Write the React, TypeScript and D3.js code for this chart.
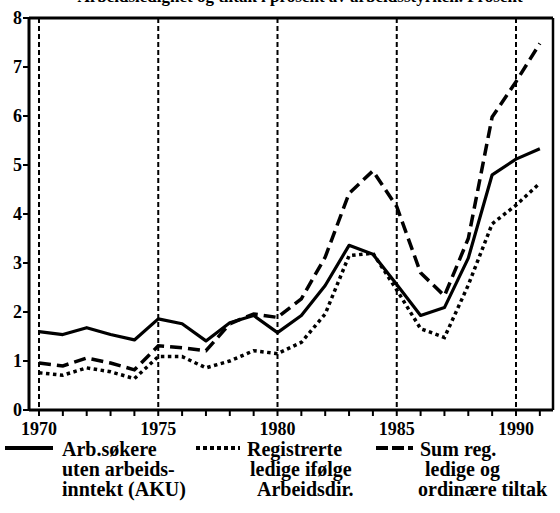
import React from "react";
import * as d3 from "d3";

const years = [1970,1971,1972,1973,1974,1975,1976,1977,1978,1979,1980,1981,1982,1983,1984,1985,1986,1987,1988,1989,1990,1991];
const aku = [1.60,1.54,1.68,1.54,1.43,1.86,1.76,1.41,1.78,1.93,1.58,1.93,2.54,3.36,3.18,2.56,1.93,2.09,3.1,4.8,5.12,5.33];
const registrerte = [0.76,0.71,0.86,0.78,0.64,1.09,1.09,0.86,1.0,1.21,1.15,1.38,1.96,3.15,3.2,2.45,1.66,1.48,2.55,3.8,4.18,4.63];
const sumTiltak = [0.96,0.9,1.06,0.96,0.82,1.31,1.27,1.21,1.76,1.96,1.89,2.27,3.12,4.42,4.88,4.15,2.8,2.33,3.5,5.98,6.7,7.48];
const yTicks = [0,1,2,3,4,5,6,7,8];
const xLabels = [1970,1975,1980,1985,1990];
const title = "Arbeidsledighet og tiltak i prosent av arbeidsstyrken. Prosent";
const legendAku = ["Arb.søkere", "uten arbeids-", "inntekt (AKU)"];
const legendReg = ["Registrerte", "ledige ifølge", "Arbeidsdir."];
const legendSum = ["Sum reg.", "ledige og", "ordinære tiltak"];

const W = 560, H = 513;
const left = 29, right = 553, top = 18, bottom = 410;
const font = "'Liberation Serif', 'Times New Roman', serif";

export default function App() {
  const x = d3.scaleLinear().domain([1970, 1990]).range([39, 516]);
  const y = d3.scaleLinear().domain([0, 8]).range([bottom, top]);
  const line = (vals: number[]) =>
    d3.line<number>().x((_, i) => x(years[i])).y((v) => y(v))(vals) || "";

  const legendLines = (lines: string[], x0: number, offsets: number[]) =>
    lines.map((t, i) => (
      <text key={i} x={x0 + offsets[i]} y={456 + i * 20} fontSize={20} fontFamily={font} fontWeight="bold">{t}</text>
    ));

  return (
    <svg width={W} height={H} style={{ position: "absolute", left: 0, top: 0, background: "#fff" }}>
      <text x={300} y={1.5} textAnchor="middle" fontSize={17} fontWeight="bold" fontFamily={font}>{title}</text>
      {xLabels.map((yr) => (
        <line key={yr} x1={x(yr)} x2={x(yr)} y1={top} y2={bottom} stroke="#000" strokeWidth={2} strokeDasharray="5 3" />
      ))}
      <line x1={left} x2={right} y1={top} y2={top} stroke="#000" strokeWidth={3} />
      <line x1={right} x2={right} y1={top} y2={bottom} stroke="#000" strokeWidth={2.5} />
      <line x1={left} x2={right} y1={bottom} y2={bottom} stroke="#000" strokeWidth={3} />
      <line x1={left} x2={left} y1={top - 1} y2={bottom + 1} stroke="#000" strokeWidth={3} />
      {yTicks.map((t) => (
        <g key={t}>
          <line x1={left - 6} x2={left} y1={y(t)} y2={y(t)} stroke="#000" strokeWidth={2} />
          <text x={left - 7} y={y(t) + 6} textAnchor="end" fontSize={18} fontWeight="bold" fontFamily={font}>{t}</text>
        </g>
      ))}
      {years.map((yr) => (
        <line key={yr} x1={x(yr)} x2={x(yr)} y1={bottom} y2={bottom + 6} stroke="#000" strokeWidth={2} />
      ))}
      {xLabels.map((yr) => (
        <text key={yr} x={x(yr)} y={435} textAnchor="middle" fontSize={18} fontWeight="bold" fontFamily={font}>{yr}</text>
      ))}
      <path d={line(aku)} fill="none" stroke="#000" strokeWidth={3.2} strokeLinejoin="round" />
      <path d={line(registrerte)} fill="none" stroke="#000" strokeWidth={3.5} strokeDasharray="3.5 3.5" />
      <path d={line(sumTiltak)} fill="none" stroke="#000" strokeWidth={3.5} strokeDasharray="12 6" />
      <line x1={5} x2={53} y1={448} y2={448} stroke="#000" strokeWidth={4} />
      {legendLines(legendAku, 62, [0, 0, 0])}
      <line x1={196} x2={240} y1={448} y2={448} stroke="#000" strokeWidth={4} strokeDasharray="4 3" />
      {legendLines(legendReg, 247, [0, 3, 10])}
      <line x1={376} x2={414} y1={448} y2={448} stroke="#000" strokeWidth={4} strokeDasharray="12 4 12 4 5 100" />
      {legendLines(legendSum, 420, [0, 5, -2])}
    </svg>
  );
}
